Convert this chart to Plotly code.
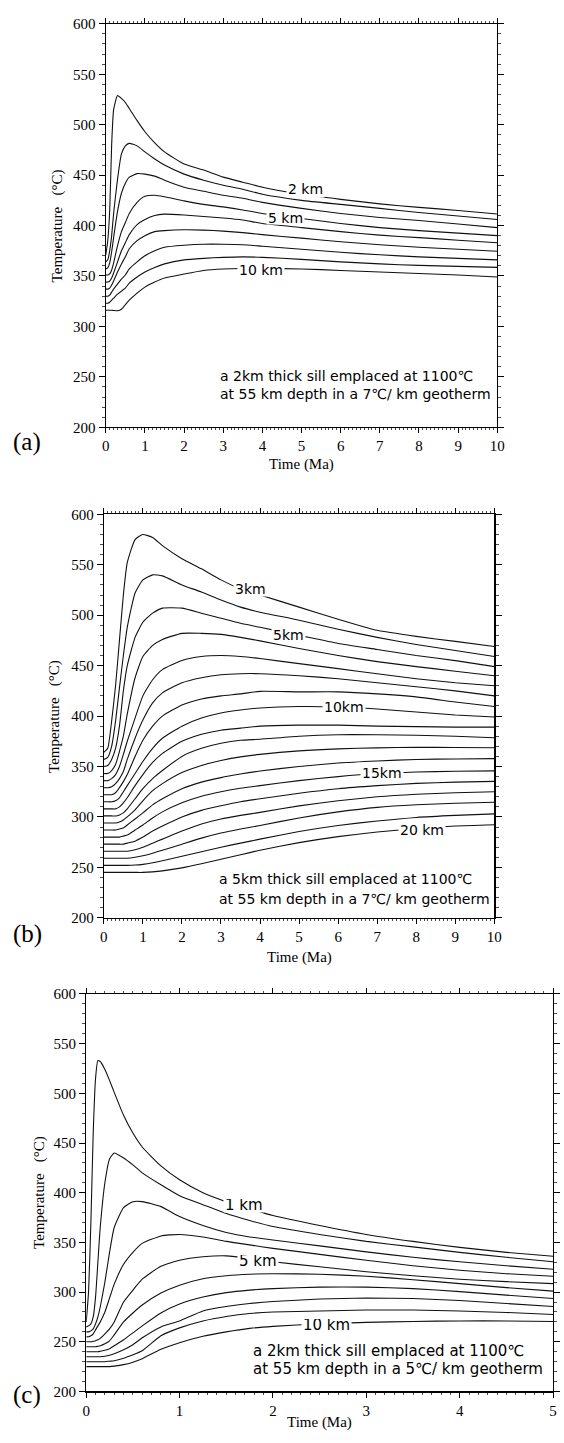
import plotly.graph_objects as go

W, H = 564, 1443

# ---------------- Panel (a): 2 km sill, 7 C/km geotherm ----------------
time_a = [0, 0.05, 0.1, 0.15, 0.2, 0.3, 0.4, 0.5, 0.6, 0.8, 1.0, 1.25, 1.5, 2, 2.5, 3, 3.5, 4, 5, 6, 7, 8, 9, 10]
a_2km = [371, 385, 415, 480, 515, 529, 526, 522, 516, 504, 493, 482, 473, 461, 455, 448, 443, 438, 431, 426, 421.5, 418, 415, 411.5]
a_3km = [364, 366, 375, 390, 412, 446, 471, 479, 481.5, 479, 473, 466, 460, 451, 445, 440, 436, 431, 425, 421, 417, 413, 409.5, 406]
a_4km = [357, 358, 363, 374, 388, 414, 432, 442, 448, 451.5, 451, 449, 445, 438, 434, 430, 427, 423, 417, 412, 408, 405, 401.5, 398]
a_5km = [351, 351, 352, 356, 363, 380, 394, 403, 412, 423, 429, 430, 428.5, 424.5, 421, 418.5, 415.5, 412, 407, 402, 398, 395, 392.5, 390]
a_6km = [344, 344, 345, 348, 353, 364, 375, 383, 391, 401, 406, 410, 411.3, 410.5, 409, 407.5, 405.5, 402, 398, 394, 390.5, 388, 385.5, 383]
a_7km = [337, 337, 338, 341, 345, 354, 362, 369, 377, 385, 390, 394, 395, 395.8, 395.5, 394.5, 393, 391, 387.5, 384, 381, 378.5, 376.5, 374.5]
a_8km = [330, 330, 331, 334, 337, 342, 347, 351, 357, 364, 370, 375, 378.5, 380.5, 381.5, 381.5, 381, 379.5, 376.5, 373.5, 371, 369, 367.5, 366]
a_9km = [323, 323, 324, 326, 328, 332, 335, 338, 343, 349, 354, 358.5, 362, 366, 367.5, 368.5, 369, 368.5, 366.5, 364, 362, 360.5, 359.5, 358.5]
a_10km = [316, 316, 316, 316, 315.8, 315.5, 317, 321.5, 326, 333, 339, 344, 348, 352, 355.5, 357, 357.5, 357.5, 357, 355.5, 354, 352.5, 351, 349]
curves_a = [a_2km, a_3km, a_4km, a_5km, a_6km, a_7km, a_8km, a_9km, a_10km]
labels_a = [("2 km", 5.11, 436.6, 15), ("5 km", 4.6, 407.5, 11), ("10 km", 3.96, 356.9, 11)]
note_a = ["a 2km thick sill emplaced at 1100\u2103", "at 55 km depth in a 7\u2103/ km geotherm"]

# ---------------- Panel (b): 5 km sill, 7 C/km geotherm ----------------
time_b = [0, 0.1, 0.2, 0.3, 0.4, 0.5, 0.6, 0.8, 1.0, 1.25, 1.5, 2.0, 2.5, 3.0, 3.5, 4.0, 5.0, 6.0, 7.0, 8.0, 9.0, 10.0]
b_3km = [364, 368, 395, 430, 475, 520, 552, 575, 580, 577, 569, 556, 546, 535, 526, 520, 508, 496, 485, 479, 474, 469]
b_4km = [357, 359, 370, 395, 428, 460, 488, 522, 535, 540, 539, 530, 523, 515, 508, 503, 495, 486, 478, 471, 465, 459]
b_5km = [350, 351, 357, 368, 390, 425, 450, 478, 493, 502, 507, 507, 502, 497, 492, 488, 480, 472, 466, 460, 455, 449]
b_6km = [343, 343, 346, 352, 365, 380, 402, 438, 459, 470, 476, 482, 482, 481, 478, 474.5, 467, 460, 454, 449, 444.5, 440]
b_7km = [336, 336, 338, 342, 350, 362, 375, 398, 420, 436, 446, 455, 459, 460, 459, 457, 452, 447, 442, 437, 433, 430]
b_8km = [329, 329, 330, 333, 338, 345, 357, 378, 396, 413, 423, 433, 438, 441, 442, 442, 440, 437, 433, 429, 425, 420]
b_9km = [322, 322, 322, 324, 329, 335, 342, 360, 376, 390, 400, 411, 417, 420, 422, 424.5, 424, 424, 422, 419, 414, 409.5]
b_10km = [315, 315, 315, 316, 319, 325, 331, 343, 355, 368, 378, 390, 398, 403, 406, 408, 409.5, 409, 407, 404, 401, 399]
b_11km = [308, 308, 308, 308, 310, 314, 319, 331, 342, 354, 363, 375, 382, 386, 388, 390, 391, 391, 390, 389.5, 389, 389]
b_12km = [301, 301, 301, 301, 302, 304, 308, 318, 328, 338, 346, 360, 368, 373, 376, 377, 380, 381.5, 381.5, 381, 380, 378.5]
b_13km = [294, 294, 294, 294, 295, 297, 300, 307, 316, 326, 333, 344, 351, 356, 359.5, 362, 365.5, 367.5, 368.5, 369, 368.8, 368.6]
b_14km = [287, 287, 287, 287, 288, 289, 292, 298, 304, 312, 318, 328, 334.5, 339, 342.5, 345.5, 350, 353.5, 355.5, 357, 357.5, 357.8]
b_15km = [280, 280, 280, 280, 280, 281, 282, 287, 292, 299, 305, 314, 320.5, 325, 328.5, 331, 336, 340, 343, 344.5, 345.3, 345.7]
b_16km = [273, 273, 273, 273, 273, 273, 274, 276, 280, 286, 291, 300, 306.5, 311, 315, 318, 323.5, 328, 331, 333.3, 334.5, 335.2]
b_17km = [266, 266, 266, 266, 266, 266, 266, 267.5, 270, 274, 278, 286, 293, 298, 301.5, 304.5, 311, 316, 320, 322.5, 324, 325]
b_18km = [259, 259, 259, 259, 259, 259, 259, 260, 261.5, 264, 267, 273, 279, 284, 288, 291.5, 299, 305, 309.5, 312, 313.5, 314.6]
b_19km = [252, 252, 252, 252, 252, 252, 252, 252.3, 253, 254.5, 256.5, 261, 265.5, 270, 274, 278, 285.5, 291.5, 296, 299.5, 301.5, 303]
b_20km = [245, 245, 245, 245, 245, 245, 245, 245, 245, 245.5, 246.5, 249.5, 253.5, 258, 262.5, 267, 274.5, 280.5, 285, 288.5, 291, 292.3]
curves_b = [b_3km, b_4km, b_5km, b_6km, b_7km, b_8km, b_9km, b_10km, b_11km, b_12km,
            b_13km, b_14km, b_15km, b_16km, b_17km, b_18km, b_19km, b_20km]
labels_b = [("3km", 3.76, 525.5, 12), ("5km", 4.74, 481, 11), ("10km", 6.14, 409, 11),
            ("15km", 7.13, 344.4, 11), ("20 km", 8.14, 288, 11)]
note_b = ["a 5km thick sill emplaced at 1100\u2103", "at 55 km depth in a 7\u2103/ km geotherm"]

# ---------------- Panel (c): 2 km sill, 5 C/km geotherm ----------------
time_c = [0, 0.025, 0.05, 0.075, 0.1, 0.125, 0.15, 0.2, 0.25, 0.3, 0.4, 0.5, 0.6, 0.8, 1.0, 1.25, 1.5, 1.75, 2.0, 2.5, 3.0, 3.5, 4.0, 4.5, 5.0]
c_1km = [270, 300, 370, 460, 515, 533, 532, 524, 513, 501, 478, 460, 446, 427, 413, 400, 391, 384, 377, 367, 358, 351, 345, 340, 336]
c_2km = [265, 266, 268, 275, 295, 330, 365, 410, 434, 440, 435, 428, 420, 408, 397, 388, 379, 372, 366, 358, 351, 345.5, 340, 335, 330.5]
c_3km = [260, 260, 261, 263, 268, 275, 285, 310, 340, 365, 385, 391, 391, 386, 376, 367, 360, 355.5, 352.5, 346.5, 340.5, 335, 330.5, 326.5, 323]
c_4km = [255, 255, 256, 258, 262, 266, 270, 280, 294, 308, 328, 340, 349, 356.5, 358, 355.5, 351, 347.5, 344, 338, 332, 326.5, 322, 318.5, 316]
c_5km = [250, 250, 250, 250.5, 251, 252, 253.5, 258, 263, 270, 290, 302, 313, 326, 332, 335.5, 336.5, 334, 330.5, 325.5, 320.5, 316.5, 313, 310.5, 308.5]
c_6km = [245, 245, 245, 245, 245, 245.5, 246, 248, 251, 257, 270, 279, 287, 299, 307, 313.5, 316.5, 318, 318.5, 318, 316, 312.5, 308.5, 304.5, 301]
c_7km = [240, 240, 240, 240, 240, 240, 240.5, 241.5, 243, 246, 252, 259, 266, 279, 288, 295, 299.5, 302, 303.5, 305, 305, 303.5, 300.5, 297, 293.5]
c_8km = [235, 235, 235, 235, 235, 235, 235, 235.5, 236.5, 238, 242, 247, 254, 265, 271, 281, 285.5, 288.5, 290.5, 293, 294, 293.5, 291.5, 288.5, 285.5]
c_9km = [230, 230, 230, 230, 230, 230, 230, 230, 230.5, 231, 233.5, 237, 241, 256, 264, 271, 275.5, 278.5, 280, 281, 282, 282, 281, 279.5, 277.5]
c_10km = [225, 225, 225, 225, 225, 225, 225, 225, 225, 225.5, 227, 229.5, 233, 242.5, 249, 255.5, 260, 263.5, 265.5, 268, 269.5, 270.5, 271, 271, 270.5]
curves_c = [c_1km, c_2km, c_3km, c_4km, c_5km, c_6km, c_7km, c_8km, c_9km, c_10km]
labels_c = [("1 km", 1.69, 388, 12), ("5 km", 1.84, 331.6, 11), ("10 km", 2.57, 267.5, 11)]
note_c = ["a 2km thick sill emplaced at 1100\u2103", "at 55 km depth in a 5\u2103/ km geotherm"]

x_ticks_ab = [0, 1, 2, 3, 4, 5, 6, 7, 8, 9, 10]
x_ticks_c = [0, 1, 2, 3, 4, 5]
y_ticks = [200, 250, 300, 350, 400, 450, 500, 550, 600]

# ---------------- layout geometry (pixels) ----------------
panels = [
    dict(letter="(a)", t=time_a, curves=curves_a, labels=labels_a, note=note_a,
         box=(104, 504, 16, 424), xmax=10, xt=x_ticks_ab, fs=14,
         note_xy=(2.86, 251.3, 233.3), ylab=(55, 220), xlab=(304, 461.7), let=(24, 439)),
    dict(letter="(b)", t=time_b, curves=curves_b, labels=labels_b, note=note_b,
         box=(102, 501, 512, 920), xmax=10, xt=x_ticks_ab, fs=14,
         note_xy=(2.9, 238.6, 219), ylab=(51, 716), xlab=(301.5, 960), let=(24, 936)),
    dict(letter="(c)", t=time_c, curves=curves_c, labels=labels_c, note=note_c,
         box=(84, 561, 997, 1399), xmax=5, xt=x_ticks_c, fs=15,
         note_xy=(1.76, 240.5, 222.3), ylab=(36, 1198), xlab=(322, 1430), let=(24, 1403)),
]

SERIF = "Liberation Serif"
SANS = "DejaVu Sans"

fig = go.Figure()
annotations = []
layout = dict(width=W, height=H, margin=dict(l=0, r=0, t=0, b=0),
              paper_bgcolor="white", plot_bgcolor="white", showlegend=False)

for i, p in enumerate(panels):
    n = "" if i == 0 else str(i + 1)
    xa, ya = "x" + n, "y" + n
    x0, x1, y0, y1 = p["box"]
    for vals in p["curves"]:
        fig.add_trace(go.Scatter(x=p["t"], y=vals, mode="lines", xaxis=xa, yaxis=ya,
                                 line=dict(color="#111", width=1.1, shape="spline", smoothing=0.5),
                                 hoverinfo="skip"))
    common = dict(showgrid=False, zeroline=False, showline=True, linecolor="black",
                  linewidth=1.2, mirror="ticks", ticks="outside", tickcolor="black",
                  tickwidth=1, ticklabeloverflow="allow",
                  tickfont=dict(family=SERIF, size=15, color="black"))
    layout["xaxis" + n] = dict(common, domain=[x0 / W, x1 / W], anchor=ya,
                               range=[0, p["xmax"]], tickvals=p["xt"], ticklen=5,
                               minor=dict(dtick=0.1, ticks="outside", ticklen=2,
                                          tickcolor="black", tickwidth=0.7))
    layout["yaxis" + n] = dict(common, domain=[1 - y1 / H, 1 - y0 / H], anchor=xa,
                               range=[200, 600], tickvals=y_ticks, ticklen=6,
                               minor=dict(dtick=10, ticks="outside", ticklen=3,
                                          tickcolor="black", tickwidth=0.7))
    # curve labels (white box masks the line behind the text)
    for txt, tx, ty, hh in p["labels"]:
        annotations.append(dict(text=txt, x=tx, y=ty, xref=xa, yref=ya, showarrow=False,
                                font=dict(family=SANS, size=p["fs"], color="black"),
                                bgcolor="white", height=hh, borderpad=1,
                                xanchor="center", yanchor="middle"))
    # note text
    nx, ny1, ny2 = p["note_xy"]
    for line, yy in zip(p["note"], (ny1, ny2)):
        annotations.append(dict(text=line, x=nx, y=yy, xref=xa, yref=ya, showarrow=False,
                                font=dict(family=SANS, size=p["fs"], color="black"),
                                xanchor="left", yanchor="middle"))
    # axis titles
    annotations.append(dict(text="Temperature\u00a0\u00a0\u00a0(\u00b0C)", x=p["ylab"][0] / W,
                            y=1 - p["ylab"][1] / H, xref="paper", yref="paper",
                            showarrow=False, textangle=-90,
                            font=dict(family=SERIF, size=15, color="black"),
                            xanchor="center", yanchor="middle"))
    annotations.append(dict(text="Time (Ma)", x=p["xlab"][0] / W, y=1 - p["xlab"][1] / H,
                            xref="paper", yref="paper", showarrow=False,
                            font=dict(family=SERIF, size=15, color="black"),
                            xanchor="center", yanchor="middle"))
    annotations.append(dict(text=p["letter"], x=p["let"][0] / W, y=1 - p["let"][1] / H,
                            xref="paper", yref="paper", showarrow=False,
                            font=dict(family=SERIF, size=25, color="black"),
                            xanchor="center", yanchor="middle"))

layout["annotations"] = annotations
fig.update_layout(**layout)
fig.write_html("out.html", config={"displayModeBar": False, "staticPlot": True},
               post_script="document.body.style.margin='0';document.body.style.padding='0';"
                           "document.body.style.overflow='hidden';")
